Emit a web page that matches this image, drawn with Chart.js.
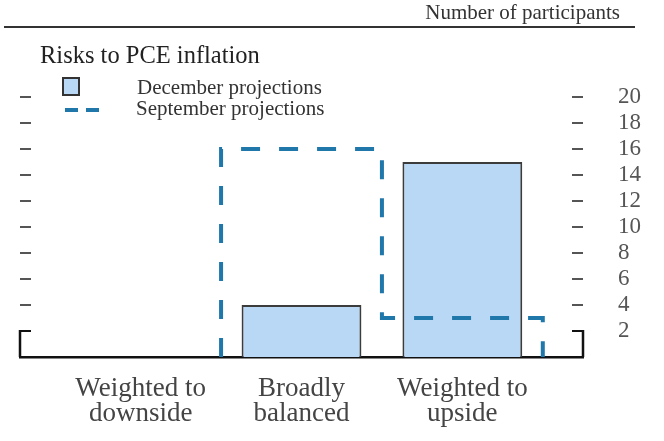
<!DOCTYPE html>
<html>
<head>
<meta charset="utf-8">
<script src="https://cdn.jsdelivr.net/npm/chart.js@4.4.1/dist/chart.umd.min.js"></script>
<style>
  body { margin: 0; background: #fff; }
  #wrap { position: relative; width: 664px; height: 441px; font-family: "Liberation Serif", "Times New Roman", serif; }
  #chart { position: absolute; left: 0; top: 0; }
  .txt { position: absolute; white-space: nowrap; line-height: 1; color: #333; }
  .dash { position: absolute; height: 4px; width: 13px; background: #1f77aa; }
</style>
</head>
<body>
<div id="wrap">
  <canvas id="chart" width="664" height="441"></canvas>
  <div class="txt" style="right:44px; top:2px; font-size:21px;">Number of participants</div>
  <div style="position:absolute; left:4px; top:26px; width:631px; height:2px; background:#333;"></div>
  <div class="txt" style="left:40px; top:43px; font-size:24.5px; color:#222;">Risks to PCE inflation</div>
  <div style="position:absolute; left:62px; top:77px; width:18px; height:19px; box-sizing:border-box; border:2px solid #333; background:#b8d8f6;"></div>
  <div class="txt" style="left:137px; top:77px; font-size:21px;">December projections</div>
  <div class="dash" style="left:65px; top:108px;"></div>
  <div class="dash" style="left:86px; top:108px;"></div>
  <div class="txt" style="left:136px; top:98px; font-size:21px;">September projections</div>
</div>
<script>
document.addEventListener('DOMContentLoaded', function () {
    // --- Data ---
    const categories = [['Weighted to', 'downside'], ['Broadly', 'balanced'], ['Weighted to', 'upside']];
    const december = [0, 4, 15];
    const september = [0, 16, 3];
    const yTicks = [2, 4, 6, 8, 10, 12, 14, 16, 18, 20];

    // Histogram outline for the dashed series, using category edges (i +/- 0.5)
    function outline(values) {
        const pts = [];
        values.forEach((v, i) => {
            if (v === 0 && pts.length === 0) return; // no dashed line along the baseline
            pts.push({ x: i - 0.5, y: v }, { x: i + 0.5, y: v });
        });
        if (!pts.length) return pts;
        pts.unshift({ x: pts[0].x, y: 0 });
        pts.push({ x: pts[pts.length - 1].x, y: 0 });
        return pts;
    }

    // Short tick marks inside the frame and the bracket at the bottom corners
    const frameTicks = {
        id: 'frameTicks',
        beforeDatasetsDraw(chart) {
            const { ctx, chartArea: ca, scales: { y } } = chart;
            ctx.save();
            y.ticks.forEach(t => {
                const py = y.getPixelForValue(t.value);
                ctx.strokeStyle = t.value === 2 ? '#111' : '#555';
                ctx.lineWidth = 2;
                ctx.beginPath();
                ctx.moveTo(ca.left, py); ctx.lineTo(ca.left + 11, py);
                ctx.moveTo(ca.right - 11, py); ctx.lineTo(ca.right, py);
                ctx.stroke();
            });
            const y0 = y.getPixelForValue(0), y2 = y.getPixelForValue(2);
            ctx.strokeStyle = '#111';
            ctx.lineWidth = 2.5;
            ctx.beginPath();
            ctx.moveTo(ca.left, y0); ctx.lineTo(ca.left, y2 - 1);
            ctx.moveTo(ca.right, y0); ctx.lineTo(ca.right, y2 - 1);
            ctx.stroke();
            ctx.restore();
        }
    };

    const font = '"Liberation Serif", "Times New Roman", serif';

    new Chart(document.getElementById('chart').getContext('2d'), {
        data: {
            datasets: [{
                type: 'line',
                label: 'September projections',
                data: outline(september),
                borderColor: '#1f77aa',
                borderWidth: 4,
                borderDash: [19, 19],
                borderCapStyle: 'butt',
                pointRadius: 0,
                tension: 0,
                fill: false,
                clip: false,
                order: 0
            }, {
                type: 'bar',
                label: 'December projections',
                data: december.map((v, i) => ({ x: i, y: v })),
                backgroundColor: '#b8d8f6',
                borderColor: '#3c3c3c',
                borderWidth: 2,
                barPercentage: 1,
                categoryPercentage: 0.745,
                order: 1
            }]
        },
        options: {
            responsive: false,
            animation: false,
            layout: { padding: { left: 20, top: 97, right: 0, bottom: 0 } },
            plugins: { legend: { display: false }, tooltip: { enabled: false } },
            scales: {
                x: {
                    type: 'linear',
                    offset: false,
                    min: -0.75,
                    max: 2.75,
                    afterBuildTicks: s => { s.ticks = categories.map((c, i) => ({ value: i })); },
                    afterFit: s => { s.height = 84; },
                    grid: { display: false, drawTicks: false, offset: false },
                    border: { display: true, color: '#111', width: 2.5 },
                    ticks: {
                        callback: v => categories[v],
                        font: { family: font, size: 27, lineHeight: 0.93 },
                        color: '#444',
                        padding: 19,
                        maxRotation: 0,
                        autoSkip: false
                    }
                },
                y: {
                    position: 'right',
                    min: 0,
                    max: 20,
                    afterBuildTicks: s => { s.ticks = yTicks.map(v => ({ value: v })); },
                    afterFit: s => { s.width = 81; },
                    grid: { display: false, drawTicks: false },
                    border: { display: false },
                    ticks: {
                        font: { family: font, size: 23 },
                        color: '#555',
                        padding: 35,
                        autoSkip: false
                    }
                }
            }
        },
        plugins: [frameTicks]
    });
});
</script>
</body>
</html>
